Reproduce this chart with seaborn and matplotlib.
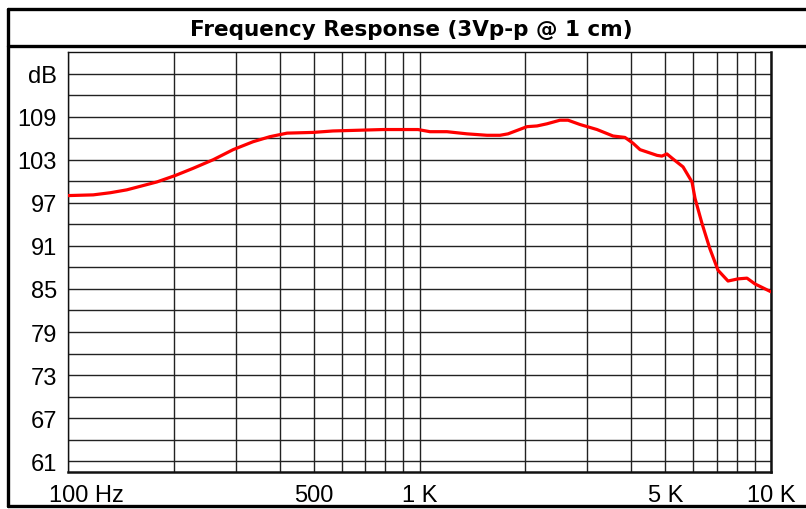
import matplotlib
matplotlib.use("Agg")
import matplotlib.pyplot as plt
import matplotlib.transforms as mtransforms
from matplotlib.lines import Line2D
from matplotlib.ticker import NullLocator
import seaborn as sns
import pandas as pd

# frequency response
freq_hz = [100, 118, 132, 147, 179, 202, 227, 259, 295, 336, 375, 420, 498,
           567, 787, 990, 1071, 1197, 1365, 1556, 1694, 1786, 2022, 2160,
           2305, 2510, 2646, 2862, 3199, 3553, 3842, 4049, 4240, 4741, 4894,
           5058, 5263, 5620, 5960, 6080, 6365, 6700, 7068, 7546, 8054, 8545,
           9000, 10000]
level_db = [98.0, 98.1, 98.4, 98.8, 99.9, 100.8, 101.8, 103.0, 104.4, 105.5,
            106.2, 106.7, 106.8, 107.0, 107.2, 107.2, 106.9, 106.9, 106.6,
            106.4, 106.4, 106.6, 107.6, 107.7, 108.0, 108.5, 108.5, 107.9,
            107.2, 106.3, 106.1, 105.3, 104.4, 103.6, 103.5, 103.8, 103.1,
            102.0, 99.9, 97.6, 94.1, 90.6, 87.6, 86.1, 86.4, 86.5, 85.7, 84.6]

title = "Frequency Response (3Vp-p @ 1 cm)"
x_grid = [100, 200, 300, 400, 500, 600, 700, 800, 900,
          1000, 2000, 3000, 4000, 5000, 6000, 7000, 8000, 9000, 10000]
x_labels = {100: "100 Hz", 500: "500", 1000: "1 K", 5000: "5 K", 10000: "10 K"}
y_grid = list(range(61, 116, 3))
y_labels = {v: str(v) for v in range(61, 110, 6)}
y_labels[115] = "dB"

sns.set_theme(style="white")
plt.rcParams["font.family"] = ["Liberation Sans", "DejaVu Sans"]

df = pd.DataFrame({"freq": freq_hz, "db": level_db})

fig = plt.figure(figsize=(8.06, 5.10), dpi=100)
ax = fig.add_axes([68 / 806, 37 / 510, 703 / 806, 420 / 510])

sns.lineplot(data=df, x="freq", y="db", color="#ff0000", linewidth=2.3, ax=ax,
             zorder=5)

ax.set_xscale("log")
ax.set_xlim(100, 10000)
ax.set_ylim(59.5, 118)
ax.set_xticks(x_grid)
ax.set_xticklabels([x_labels.get(v, "") for v in x_grid])
ax.xaxis.set_minor_locator(NullLocator())
ax.set_yticks(y_grid)
ax.set_yticklabels([y_labels.get(v, "") for v in y_grid])
ax.tick_params(axis="both", length=0, labelsize=17, colors="black")
ax.tick_params(axis="y", pad=8)
ax.tick_params(axis="x", pad=9)
ax.grid(True, color="#222222", linewidth=1.0)
ax.set_xlabel("")
ax.set_ylabel("")

# nudge "100 Hz" right like the original
lbl = ax.get_xticklabels()[0]
lbl.set_transform(lbl.get_transform() + mtransforms.ScaledTranslation(18 / 100, 0, fig.dpi_scale_trans))

for side in ["left", "top"]:
    ax.spines[side].set_color("#111111")
    ax.spines[side].set_linewidth(1.0)
for side in ["bottom", "right"]:
    ax.spines[side].set_color("#111111")
    ax.spines[side].set_linewidth(1.8)

# outer frame and title bar
fw, fh = 806, 510
def fx(p):
    return p / fw
def fy(p):
    return (fh - p) / fh
frame_kw = dict(color="black", linewidth=2.4, transform=fig.transFigure)
fig.lines.append(Line2D([fx(8), fx(8)], [fy(10), fy(507)], **frame_kw))
fig.lines.append(Line2D([fx(8), 1.01], [fy(10), fy(10)], **frame_kw))
fig.lines.append(Line2D([fx(8), 1.01], [fy(507), fy(507)], **frame_kw))
fig.lines.append(Line2D([fx(8), 1.01], [fy(47), fy(47)], **frame_kw))

fig.text(fx(411), fy(30), title, ha="center", va="center", fontsize=15.5,
         fontweight="bold", color="black", family=["DejaVu Sans"])

fig.savefig("out.png", dpi=100)
